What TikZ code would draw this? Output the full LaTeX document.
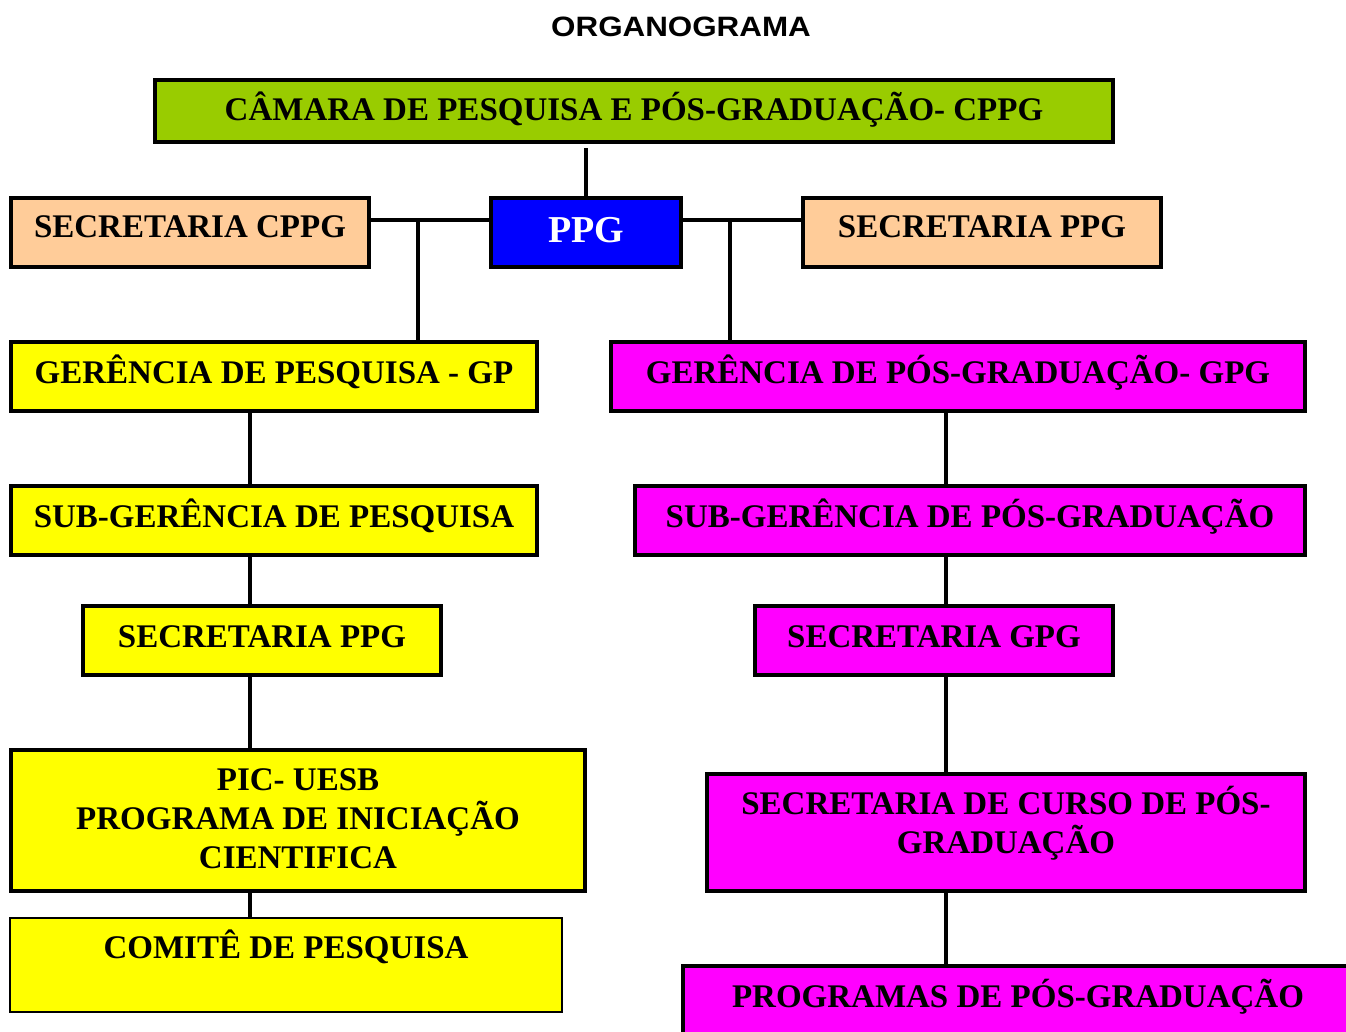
\documentclass[tikz,border=0pt]{standalone}
\usepackage{fontspec}
\setmainfont{Liberation Serif}
\newfontfamily\titlefont[FakeStretch=1.12]{Liberation Sans Bold}
\definecolor{cgreen}{HTML}{99CC00}
\definecolor{cpeach}{HTML}{FFCC99}
\definecolor{cblue}{HTML}{0000FF}
\definecolor{cyellow}{HTML}{FFFF00}
\definecolor{cmagenta}{HTML}{FF00FF}
\begin{document}
\begin{tikzpicture}[x=1pt,y=-1pt,
  box/.style={draw=black,line width=3.5pt,inner sep=0pt,rectangle},
  txt/.style={font=\fontsize{33}{39}\selectfont\bfseries,align=center,inner sep=0pt,anchor=base},
  mtxt/.style={font=\fontsize{33}{39}\selectfont\bfseries,align=center,inner sep=0pt,anchor=center},
  conn/.style={draw=black,line width=3.2pt}]
\useasboundingbox (0,0) rectangle (1346,1032);
\fill[white] (0,0) rectangle (1346,1032);

% title
\node[inner sep=0pt,anchor=base,font=\titlefont\fontsize{28}{32}\selectfont] (title) at (681,37) {ORGANOGRAMA};

% boxes
\node[box,fill=cgreen,minimum width=958pt,minimum height=62pt] (cppg) at (634,111) {};
\node[box,fill=cpeach,minimum width=358pt,minimum height=69pt] (seccppg) at (190,232.5) {};
\node[box,fill=cblue,minimum width=190pt,minimum height=69pt] (ppg) at (586,232.5) {};
\node[box,fill=cpeach,minimum width=358pt,minimum height=69pt] (secppg) at (982,232.5) {};
\node[box,fill=cyellow,minimum width=526pt,minimum height=69pt] (gp) at (274,376.5) {};
\node[box,fill=cmagenta,minimum width=694pt,minimum height=69pt] (gpg) at (958,376.5) {};
\node[box,fill=cyellow,minimum width=526pt,minimum height=69pt] (sub) at (274,520.5) {};
\node[box,fill=cmagenta,minimum width=670pt,minimum height=69pt] (subpg) at (970,520.5) {};
\node[box,fill=cyellow,minimum width=358pt,minimum height=69pt] (secppgb) at (262,640.5) {};
\node[box,fill=cmagenta,minimum width=358pt,minimum height=69pt] (secgpg) at (934,640.5) {};
\node[box,fill=cyellow,minimum width=574pt,minimum height=141pt] (pic) at (298,820.5) {};
\node[box,fill=cmagenta,minimum width=598pt,minimum height=117pt] (curso) at (1006,832.5) {};
\node[box,fill=cyellow,line width=1.5pt,minimum width=552pt,minimum height=94pt] (comite) at (286,965) {};
\begin{scope}
\clip (0,0) rectangle (1346,1032);
\node[box,fill=cmagenta,minimum width=677pt,minimum height=79pt] (prog) at (1021.5,1005.5) {};
\end{scope}

% texts
\node[txt] (cppg-t) at (634,121) {CÂMARA DE PESQUISA E PÓS-GRADUAÇÃO- CPPG};
\node[txt] (seccppg-t) at (190,238) {SECRETARIA CPPG};
\node[txt,text=white,font=\fontsize{38}{44}\selectfont\bfseries] (ppg-t) at (586,243) {PPG};
\node[txt] (secppg-t) at (982,238) {SECRETARIA PPG};
\node[txt] (gp-t) at (274,383) {GERÊNCIA DE PESQUISA - GP};
\node[txt] (gpg-t) at (958,383) {GERÊNCIA DE PÓS-GRADUAÇÃO- GPG};
\node[txt] (sub-t) at (274,527) {SUB-GERÊNCIA DE PESQUISA};
\node[txt] (subpg-t) at (970,527) {SUB-GERÊNCIA DE PÓS-GRADUAÇÃO};
\node[txt] (secppgb-t) at (262,647) {SECRETARIA PPG};
\node[txt] (secgpg-t) at (934,647) {SECRETARIA GPG};
\node[mtxt] (pic-t) at (298,819) {PIC- UESB\\PROGRAMA DE INICIAÇÃO\\CIENTIFICA};
\node[mtxt] (curso-t) at (1006,823) {SECRETARIA DE CURSO DE PÓS-\\GRADUAÇÃO};
\node[txt] (comite-t) at (286,958) {COMITÊ DE PESQUISA};
\node[txt] (prog-t) at (1018,1007) {PROGRAMAS DE PÓS-GRADUAÇÃO};

% connectors
\coordinate (jl) at (418,220);
\coordinate (jr) at (730,220);
\coordinate (lx) at (250,0);
\coordinate (rx) at (946,0);
\draw[conn] (ppg.north) -- ([yshift=-4pt]ppg.north |- cppg.south);
\draw[conn] (seccppg.east |- jl) -- (ppg.west |- jl);
\draw[conn] (ppg.east |- jr) -- (secppg.west |- jr);
\draw[conn] (jl) -- (jl |- gp.north);
\draw[conn] (jr) -- (jr |- gpg.north);
\draw[conn] (gp.south -| lx) -- (sub.north -| lx);
\draw[conn] (sub.south -| lx) -- (secppgb.north -| lx);
\draw[conn] (secppgb.south -| lx) -- (pic.north -| lx);
\draw[conn] (pic.south -| lx) -- (comite.north -| lx);
\draw[conn] (gpg.south -| rx) -- (subpg.north -| rx);
\draw[conn] (subpg.south -| rx) -- (secgpg.north -| rx);
\draw[conn] (secgpg.south -| rx) -- (curso.north -| rx);
\draw[conn] (curso.south -| rx) -- (prog.north -| rx);
\end{tikzpicture}
\end{document}
